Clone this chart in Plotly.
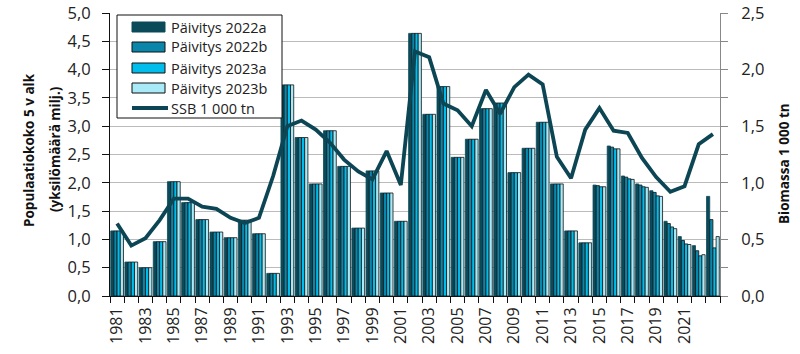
import plotly.graph_objects as go

years = list(range(1981, 2024))

p2022a = [1.15, 0.60, 0.50, 0.96, 2.02, 1.65, 1.35, 1.13, 1.03, 1.34, 1.10, 0.40,
          3.73, 2.80, 1.98, 2.92, 2.29, 1.20, 2.21, 1.82, 1.32, 4.64, 3.21, 3.70,
          2.45, 2.77, 3.31, 3.41, 2.18, 2.61, 3.07, 1.98, 1.15, 0.94,
          1.96, 2.65, 2.12, 1.98, 1.86, 1.32, 1.05, 0.89, 1.76]
p2022b = [1.15, 0.60, 0.50, 0.96, 2.02, 1.65, 1.35, 1.13, 1.03, 1.34, 1.10, 0.40,
          3.73, 2.80, 1.98, 2.92, 2.29, 1.20, 2.21, 1.82, 1.32, 4.64, 3.21, 3.70,
          2.45, 2.77, 3.31, 3.41, 2.18, 2.61, 3.07, 1.98, 1.15, 0.94,
          1.95, 2.63, 2.10, 1.96, 1.83, 1.28, 0.98, 0.80, 1.35]
p2023a = [1.15, 0.60, 0.50, 0.96, 2.02, 1.65, 1.35, 1.13, 1.03, 1.34, 1.10, 0.40,
          3.73, 2.80, 1.98, 2.92, 2.29, 1.20, 2.21, 1.82, 1.32, 4.64, 3.21, 3.70,
          2.45, 2.77, 3.31, 3.41, 2.18, 2.61, 3.07, 1.98, 1.15, 0.94,
          1.93, 2.60, 2.07, 1.93, 1.77, 1.22, 0.92, 0.71, 0.85]
p2023b = [1.15, 0.60, 0.50, 0.96, 2.02, 1.65, 1.35, 1.13, 1.03, 1.34, 1.10, 0.40,
          3.73, 2.80, 1.98, 2.92, 2.29, 1.20, 2.21, 1.82, 1.32, 4.64, 3.21, 3.70,
          2.45, 2.77, 3.31, 3.41, 2.18, 2.61, 3.07, 1.98, 1.15, 0.94,
          1.93, 2.60, 2.06, 1.92, 1.76, 1.19, 0.91, 0.73, 1.05]
ssb = [0.64, 0.445, 0.51, 0.67, 0.86, 0.86, 0.79, 0.77, 0.69, 0.645, 0.69, 1.06,
       1.50, 1.55, 1.47, 1.355, 1.205, 1.10, 1.03, 1.28, 0.98, 2.16, 2.11, 1.70,
       1.64, 1.50, 1.82, 1.61, 1.845, 1.955, 1.87, 1.23, 1.04, 1.47, 1.66, 1.46,
       1.44, 1.22, 1.05, 0.92, 0.97, 1.34, 1.43]

xlabels = [str(y) for y in range(1981, 2022, 2)]

FONT = "Open Sans, Noto Sans, DejaVu Sans, sans-serif"
dark = "#0C4654"
W, H = 800, 354
ML, MR, MT, MB = 110, 80, 13, 58
PW, PH = W - ML - MR, H - MT - MB


def px(x):
    return (x - ML) / PW


def py(y):
    return (H - MB - y) / PH


fig = go.Figure()
series = [
    ("Päivitys 2022a", p2022a, "#0B4A59", "#0B4A59"),
    ("Päivitys 2022b", p2022b, "#0A86AA", "#111111"),
    ("Päivitys 2023a", p2023a, "#00BDEB", "#111111"),
    ("Päivitys 2023b", p2023b, "#A8EAF8", "#111111"),
]
for name, vals, col, lc in series:
    fig.add_trace(go.Bar(x=years, y=vals, name=name,
                         marker=dict(color=col, line=dict(color=lc, width=0.8))))

fig.add_trace(go.Scatter(x=years, y=ssb, name="SSB 1 000 tn", mode="lines",
                         line=dict(color=dark, width=3.8), yaxis="y2"))

# custom legend (box, swatches, labels)
shapes = [dict(type="rect", xref="paper", yref="paper",
               x0=px(117), x1=px(282), y0=py(118), y1=py(15),
               line=dict(color="#111111", width=1), fillcolor="white", layer="above")]
annotations = []
rows = [27, 47, 68, 88]
for (name, vals, col, lc), ry in zip(series, rows):
    shapes.append(dict(type="rect", xref="paper", yref="paper",
                       x0=px(132), x1=px(165), y0=py(ry + 5), y1=py(ry - 5),
                       fillcolor=col, line=dict(color=lc, width=1), layer="above"))
    annotations.append(dict(text=name, xref="paper", yref="paper", x=px(169), y=py(ry),
                            xanchor="left", yanchor="middle", showarrow=False,
                            font=dict(size=14.5, color="#222222", family=FONT)))
shapes.append(dict(type="line", xref="paper", yref="paper",
                   x0=px(132), x1=px(168), y0=py(108), y1=py(108),
                   line=dict(color=dark, width=3.8), layer="above"))
annotations.append(dict(text="SSB 1 000 tn", xref="paper", yref="paper", x=px(169), y=py(108),
                        xanchor="left", yanchor="middle", showarrow=False,
                        font=dict(size=14.5, color="#222222", family=FONT)))

# axis titles
title_font = dict(size=13.5, color="#111111", family=FONT)
annotations += [
    dict(text="<b>Populaatiokoko 5 v alk</b>", xref="paper", yref="paper",
         x=px(29), y=py(150), textangle=-90, showarrow=False,
         xanchor="center", yanchor="middle", font=title_font),
    dict(text="<b>(yksilömäärä milj.)</b>", xref="paper", yref="paper",
         x=px(55), y=py(149), textangle=-90, showarrow=False,
         xanchor="center", yanchor="middle", font=title_font),
    dict(text="<b>Biomassa 1 000 tn</b>", xref="paper", yref="paper",
         x=px(784), y=py(164), textangle=-90, showarrow=False,
         xanchor="center", yanchor="middle", font=title_font),
]

fig.update_layout(
    width=W, height=H,
    margin=dict(l=ML, r=MR, t=MT, b=MB, autoexpand=False),
    paper_bgcolor="white", plot_bgcolor="white",
    separators=", ",
    barmode="group", bargap=0.1, bargroupgap=0.0,
    font=dict(family=FONT, size=14, color="#222222"),
    showlegend=False,
    shapes=shapes, annotations=annotations,
    xaxis=dict(range=[1980.5, 2023.5], tickmode="array", automargin=False,
               tickvals=list(range(1981, 2022, 2)), ticktext=xlabels,
               tickangle=-90, ticks="", showgrid=False,
               showline=True, linecolor="#111111", linewidth=1,
               tickfont=dict(size=16), ticklabelstandoff=4,
               minor=dict(ticks="outside", tickmode="linear", tick0=0.5, dtick=1,
                          ticklen=6, tickcolor="#111111", showgrid=False)),
    yaxis=dict(range=[0, 5], dtick=0.5, tickformat=".1f", automargin=False,
               showgrid=True, gridcolor="#BBBBBB", gridwidth=1,
               showline=True, linecolor="#111111", linewidth=1,
               ticks="outside", ticklen=7, tickcolor="#111111",
               zeroline=False, tickfont=dict(size=16.5), ticklabelstandoff=8),
    yaxis2=dict(range=[0, 2.5], dtick=0.5, tickformat=".1f", overlaying="y",
                side="right", showgrid=False, zeroline=False, automargin=False,
                showline=True, linecolor="#888888", linewidth=1,
                ticks="outside", ticklen=7, tickcolor="#888888",
                tickfont=dict(size=16.5), ticklabelstandoff=10,
                minor=dict(ticks="outside", dtick=0.25, ticklen=7,
                           tickcolor="#888888", showgrid=False)),
)

fig.write_html("out.html")
